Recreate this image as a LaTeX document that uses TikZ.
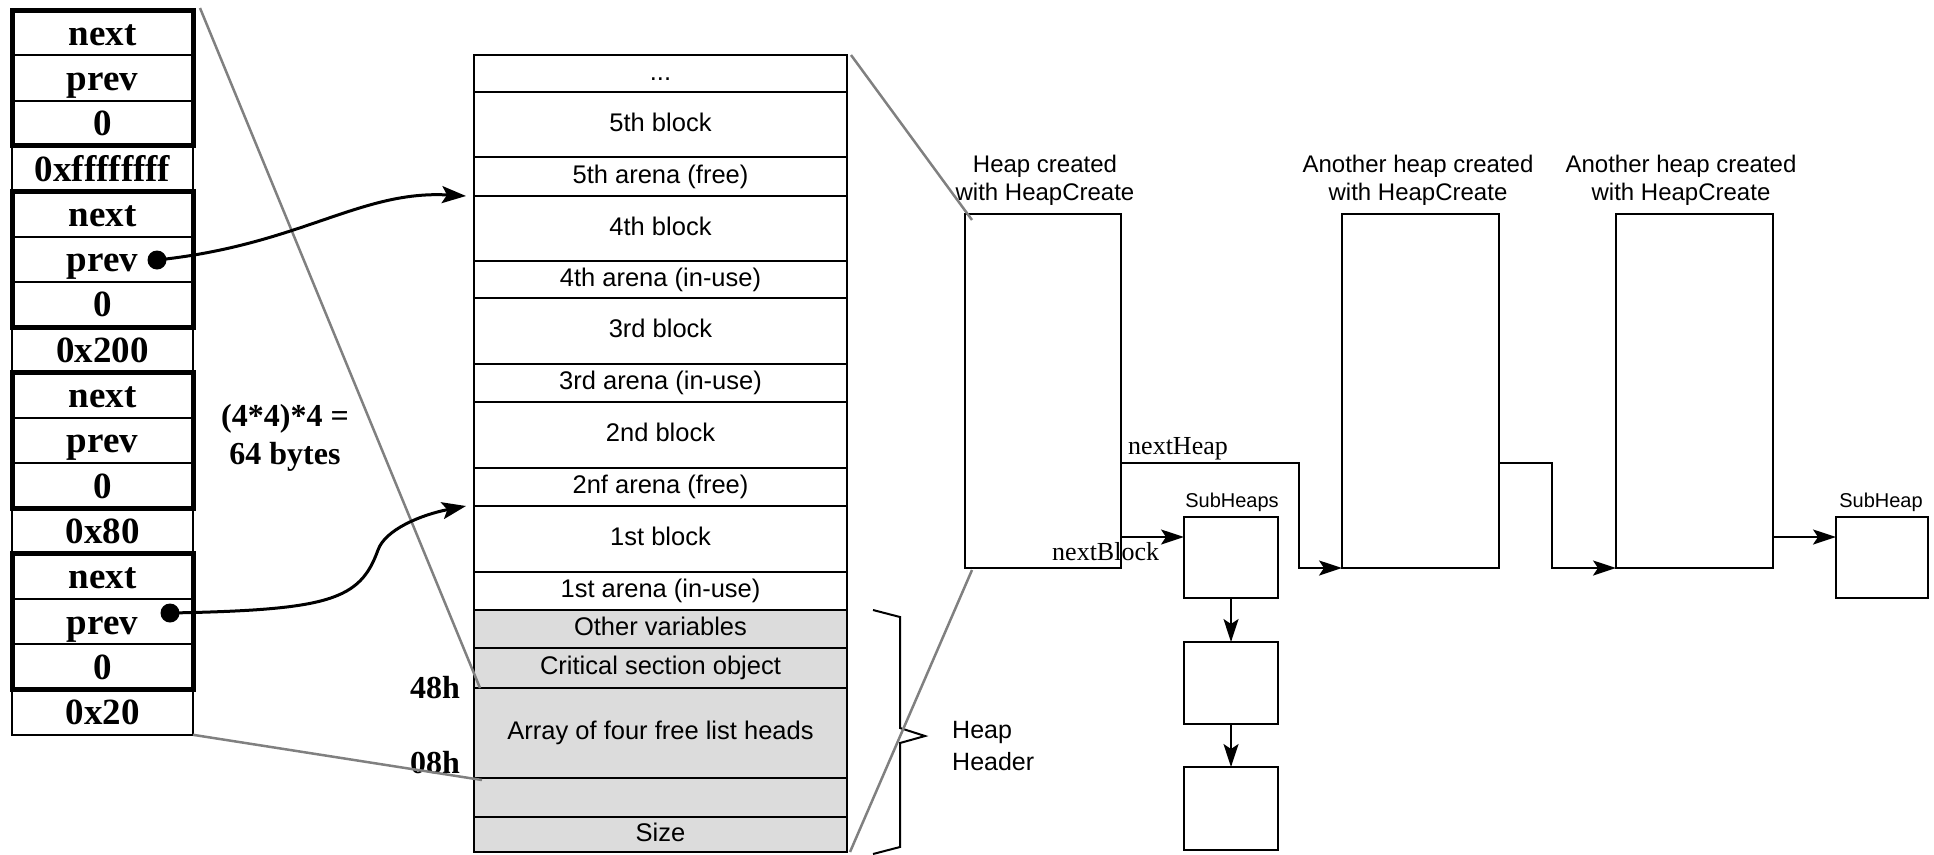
\documentclass[tikz,border=0pt]{standalone}
\usepackage{fontspec}
\setmainfont{Liberation Serif}
\newfontfamily\arialfont{Liberation Sans}
\usetikzlibrary{arrows.meta}
\definecolor{hdrgray}{HTML}{DCDCDC}
\definecolor{guide}{HTML}{808080}

\begin{document}
\begin{tikzpicture}[x=1pt,y=-1pt,
  cell/.style={draw, line width=2pt, minimum width=181pt, minimum height=45.3pt,
    inner sep=0pt, outer sep=0pt, text height=27pt, text depth=2pt,
    font=\fontsize{37}{40}\selectfont\bfseries},
  group/.style={line width=5pt},
  mcell/.style={draw, line width=2.5pt, minimum width=373pt, inner sep=0pt, outer sep=0pt,
    text height=18pt, text depth=5pt, font=\arialfont\fontsize{25.5}{30}\selectfont},
  heapbox/.style={draw, line width=2pt, inner sep=0pt, outer sep=0pt},
  subbox/.style={draw, line width=2pt, inner sep=0pt, outer sep=0pt, minimum width=94pt},
  lbl/.style={inner sep=0pt, font=\arialfont\fontsize{24}{28}\selectfont, align=center},
  small/.style={inner sep=0pt, font=\arialfont\fontsize{20}{24}\selectfont},
  ptr/.style={inner sep=0pt, font=\fontsize{26}{30}\selectfont},
  bold/.style={inner sep=0pt, font=\fontsize{32}{38}\selectfont\bfseries, align=center},
  guideline/.style={draw=guide, line width=2.5pt},
  arr/.style={-{Stealth[length=23pt,width=15pt,inset=5pt]}, line width=2pt},
  curv/.style={-{Stealth[length=24pt,width=17pt,inset=5pt]}, line width=3pt},
  dot/.style={circle, fill=black, inner sep=0pt, minimum size=19pt}
]
\useasboundingbox (0,0) rectangle (1934,854);

% free-list words, 16 rows
\foreach \t [count=\i from 0] in {next,prev,0,0xffffffff,next,prev,0,0x200,next,prev,0,0x80,next,prev,0,0x20}
  \node[cell] (l\i) at (102.5,{32.65+45.3*\i}) {\t};
\foreach \a/\b in {0/2,4/6,8/10,12/14}
  \draw[group] (l\a.north west) rectangle (l\b.south east);

% heap layout column
\foreach \yc/\h/\t/\f [count=\i] in {
   73.5/37pt/{...}/white,
  124.5/65pt/{5th block}/white,
  176.5/39pt/{5th arena (free)}/white,
  228.5/65pt/{4th block}/white,
  279.5/37pt/{4th arena (in-use)}/white,
  331/66pt/{3rd block}/white,
  383/38pt/{3rd arena (in-use)}/white,
  435/66pt/{2nd block}/white,
  487/38pt/{2nf arena (free)}/white,
  539/66pt/{1st block}/white,
  591/38pt/{1st arena (in-use)}/white,
  629/38pt/{Other variables}/hdrgray,
  668/40pt/{Critical section object}/hdrgray,
  733/90pt/{Array of four free list heads}/hdrgray,
  797.5/39pt/{}/hdrgray,
  834.5/35pt/{Size}/hdrgray}
  \node[mcell, minimum height=\h, fill=\f] (m\i) at (660.5,\yc) {\t};

% offsets and size note
\node[bold, anchor=base] (o48) at (435,698) {48h};
\node[bold, anchor=base] (o08) at (435,773) {08h};
\node[bold] (sz) at (285,438) {(4*4)*4 =\\64 bytes};

% heap header brace
\draw[line width=2pt] (873,610) -- (900,617) -- (900,728) -- (925,736) -- (900,743) -- (900,847) -- (873,854);
\node[lbl, anchor=base west, font=\arialfont\fontsize{25}{30}\selectfont] (hh1) at (952,738) {Heap};
\node[lbl, anchor=base west, font=\arialfont\fontsize{25}{30}\selectfont] (hh2) at (952,770) {Header};

% heaps
\node[heapbox, minimum width=156pt, minimum height=354pt] (heap1) at (1043,391) {};
\node[heapbox, minimum width=157pt, minimum height=354pt] (heap2) at (1420.5,391) {};
\node[heapbox, minimum width=157pt, minimum height=354pt] (heap3) at (1694.5,391) {};
\node[lbl] (hl1) at (1045,180) {Heap created\\with HeapCreate};
\node[lbl] (hl2) at (1418,180) {Another heap created\\with HeapCreate};
\node[lbl] (hl3) at (1681,180) {Another heap created\\with HeapCreate};

% sub-heaps
\node[subbox, minimum height=81pt] (sh1) at (1231,557.5) {};
\node[subbox, minimum height=82pt] (sh2) at (1231,683) {};
\node[subbox, minimum height=83pt] (sh3) at (1231,808.5) {};
\node[subbox, minimum width=92pt, minimum height=81pt] (sh4) at (1882,557.5) {};
\node[small, anchor=base] (shl1) at (1232,507) {SubHeaps};
\node[small, anchor=base] (shl2) at (1881,507) {SubHeap};

% links between heaps
\draw[arr] ([yshift=31pt]heap1.south east) -- ([yshift=31pt]heap1.south east -| sh1.west);
\draw[arr] ([yshift=105pt]heap1.south east) -- ++(178,0) |- (heap2.south west);
\draw[arr] ([yshift=105pt]heap2.south east) -- ++(53,0) |- (heap3.south west);
\draw[arr] ([yshift=31pt]heap3.south east) -- ([yshift=31pt]heap3.south east -| sh4.west);
\draw[arr] (sh1.south) -- (sh2.north);
\draw[arr] (sh2.south) -- (sh3.north);
\node[ptr, anchor=base west] (nh) at (1128,454) {nextHeap};
\node[ptr, anchor=base west] (nb) at (1052,560) {nextBlock};

% zoom guides
\draw[guideline] ([shift={(7,-2)}]l0.north east) -- ([xshift=6pt]m13.south west);
\draw[guideline] (l15.south east) -- ([shift={(8,2)}]m14.south west);
\draw[guideline] ([xshift=4pt]m1.north east) -- ([shift={(7,6)}]heap1.north west);
\draw[guideline] ([xshift=3pt]m16.south east) -- ([shift={(7,2)}]heap1.south west);

% free-list pointers
\node[dot] (d1) at (157,260) {};
\node[dot] (d2) at (170,613) {};
\draw[curv] (d1.center) .. controls (300,245) and (360,190) .. ([xshift=-8pt]m4.north west);
\draw[curv] (d2.center) .. controls (330,610) and (360,600) .. (378,550)
  .. controls (385,530) and (420,515) .. ([xshift=-8pt]m10.north west);
\end{tikzpicture}
\end{document}
